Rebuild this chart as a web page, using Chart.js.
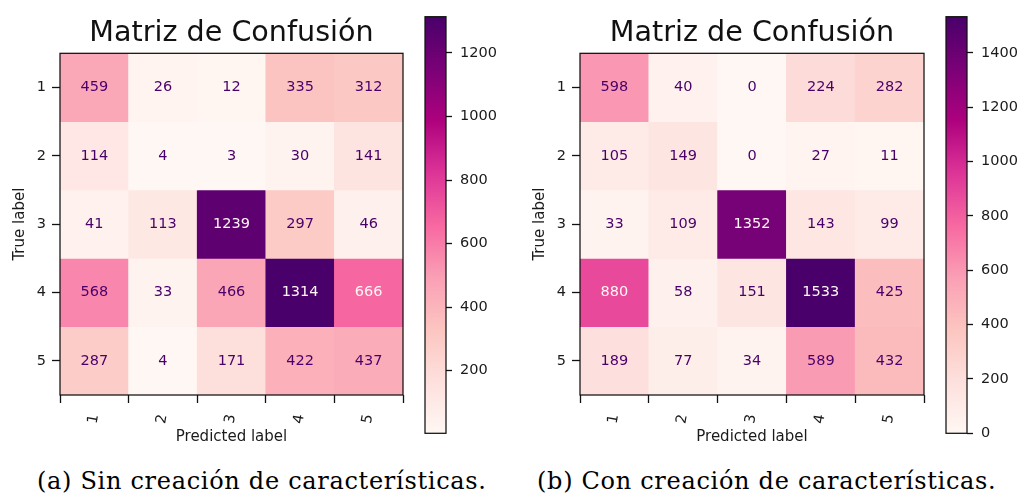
<!DOCTYPE html>
<html>
<head>
<meta charset="utf-8">
<script src="https://cdn.jsdelivr.net/npm/chart.js@4/dist/chart.umd.min.js"></script>
<style>
  body { margin: 0; background: #fff; width: 1019px; height: 504px; position: relative; overflow: hidden; }
  canvas { position: absolute; top: 0; }
  .caption { position: absolute; top: 469px; font-family: "DejaVu Serif", serif; font-size: 24px; line-height: 24px; letter-spacing: 0.7px; color: #000; white-space: nowrap; }
</style>
</head>
<body>
<canvas id="cmA" width="420" height="450" style="left:0"></canvas>
<canvas id="cbA" width="90" height="450" style="left:420px"></canvas>
<canvas id="cmB" width="420" height="450" style="left:520px"></canvas>
<canvas id="cbB" width="78" height="450" style="left:941px"></canvas>
<div class="caption" style="left:37px">(a) Sin creación de características.</div>
<div class="caption" style="left:537px">(b) Con creación de características.</div>
<script>
// class labels (true / predicted)
const classLabels = ['1', '2', '3', '4', '5'];

// (a) sin creación de características, rows = true label
const matrixA = [
    [459, 26, 12, 335, 312],
    [114, 4, 3, 30, 141],
    [41, 113, 1239, 297, 46],
    [568, 33, 466, 1314, 666],
    [287, 4, 171, 422, 437]
];

// (b) con creación de características
const matrixB = [
    [598, 40, 0, 224, 282],
    [105, 149, 0, 27, 11],
    [33, 109, 1352, 143, 99],
    [880, 58, 151, 1533, 425],
    [189, 77, 34, 589, 432]
];

const colorbarTicksA = [200, 400, 600, 800, 1000, 1200];
const colorbarTicksB = [0, 200, 400, 600, 800, 1000, 1200, 1400];

// matplotlib RdPu
const rdpu = ['#fff7f3', '#fde0dd', '#fcc5c0', '#fa9fb5', '#f768a1', '#dd3497', '#ae017e', '#7a0177', '#49006a'];

Chart.defaults.font.family = 'DejaVu Sans';
Chart.defaults.color = '#1a1a1a';

function hexToRgb(h) {
    return [1, 3, 5].map(i => parseInt(h.substr(i, 2), 16));
}

function rdpuColor(t) {
    t = Math.max(0, Math.min(1, t));
    const pos = t * (rdpu.length - 1);
    const i = Math.min(Math.floor(pos), rdpu.length - 2);
    const f = pos - i;
    const a = hexToRgb(rdpu[i]), b = hexToRgb(rdpu[i + 1]);
    const c = a.map((v, k) => Math.round(v + (b[k] - v) * f));
    return `rgb(${c[0]}, ${c[1]}, ${c[2]})`;
}

// black frame around the plot area
const frame = {
    id: 'frame',
    afterDatasetsDraw(chart) {
        const { ctx, chartArea } = chart;
        ctx.save();
        ctx.strokeStyle = '#111';
        ctx.lineWidth = 1.25;
        ctx.strokeRect(chartArea.left, chartArea.top, chartArea.right - chartArea.left, chartArea.bottom - chartArea.top);
        ctx.restore();
    }
};

// numbers written in each cell
const cellText = {
    id: 'cellText',
    afterDatasetsDraw(chart) {
        const { ctx } = chart;
        const all = chart.data.datasets.flatMap(d => d.values);
        const thresh = (Math.max(...all) + Math.min(...all)) / 2;
        ctx.save();
        ctx.font = '14.5px "DejaVu Sans"';
        ctx.textAlign = 'center';
        ctx.textBaseline = 'middle';
        chart.data.datasets.forEach((ds, i) => {
            chart.getDatasetMeta(i).data.forEach((bar, j) => {
                const v = ds.values[j];
                ctx.fillStyle = v > thresh ? rdpu[0] : rdpu[8];
                ctx.fillText(String(v), bar.x, (bar.y + bar.base) / 2);
            });
        });
        ctx.restore();
    }
};

function makeMatrix(id, matrix, padRight) {
    const flat = matrix.flat();
    const vmin = Math.min(...flat), vmax = Math.max(...flat);
    const datasets = matrix.map((row, r) => ({
        data: row.map(() => [r + 0.5, r + 1.5]),
        values: row,
        backgroundColor: row.map(v => rdpuColor((v - vmin) / (vmax - vmin))),
        borderWidth: 0,
        grouped: false,
        barPercentage: 1,
        categoryPercentage: 1
    }));

    return new Chart(document.getElementById(id), {
        type: 'bar',
        data: { labels: classLabels, datasets: datasets },
        options: {
            responsive: false,
            animation: false,
            layout: { padding: { left: 0, right: padRight, top: 0, bottom: 0 } },
            plugins: {
                legend: { display: false },
                tooltip: { enabled: false },
                title: {
                    display: true,
                    text: 'Matriz de Confusión',
                    fullSize: false,
                    color: '#111',
                    font: { size: 28.6, weight: 'normal' },
                    padding: { top: 16, bottom: 3 }
                }
            },
            scales: {
                x: {
                    afterFit: (s) => { s.height = 55; },
                    grid: { drawOnChartArea: false, tickLength: 8, tickWidth: 1.3, color: '#111' },
                    border: { display: false },
                    ticks: { font: { size: 14.5 }, minRotation: 80, maxRotation: 80, padding: 10 },
                    title: { display: true, text: 'Predicted label', font: { size: 15 }, padding: { top: 0, bottom: 4 } }
                },
                y: {
                    min: 0.5,
                    max: 5.5,
                    reverse: true,
                    afterFit: (s) => { s.width = 60; },
                    afterBuildTicks: (s) => { s.ticks = classLabels.map((l, i) => ({ value: i + 1 })); },
                    grid: { drawOnChartArea: false, tickLength: 8, tickWidth: 1.3, color: '#111' },
                    border: { display: false },
                    ticks: {
                        font: { size: 14.5 },
                        padding: 6,
                        callback: (v) => classLabels[v - 1]
                    },
                    title: { display: true, text: 'True label', font: { size: 15 }, padding: { top: 11, bottom: 0 } }
                }
            }
        },
        plugins: [frame, cellText]
    });
}

function makeColorbar(id, matrix, ticks, axisWidth) {
    const flat = matrix.flat();
    const vmin = Math.min(...flat), vmax = Math.max(...flat);
    return new Chart(document.getElementById(id), {
        type: 'bar',
        data: {
            labels: [''],
            datasets: [{
                data: [[vmin, vmax]],
                borderWidth: 0,
                barPercentage: 1,
                categoryPercentage: 1,
                backgroundColor: (c) => {
                    const chart = c.chart;
                    const ys = chart.scales.y;
                    if (!chart.chartArea || !ys) return rdpu[0];
                    const g = chart.ctx.createLinearGradient(0, ys.getPixelForValue(vmin), 0, ys.getPixelForValue(vmax));
                    rdpu.forEach((col, i) => g.addColorStop(i / (rdpu.length - 1), col));
                    return g;
                }
            }]
        },
        options: {
            responsive: false,
            animation: false,
            layout: { padding: { left: 5, right: 0, top: 11, bottom: 13 } },
            plugins: { legend: { display: false }, tooltip: { enabled: false } },
            scales: {
                x: { display: false },
                y: {
                    position: 'right',
                    min: vmin,
                    max: vmax,
                    afterFit: (s) => { s.width = axisWidth; },
                    afterBuildTicks: (s) => { s.ticks = ticks.map(v => ({ value: v })); },
                    grid: { drawOnChartArea: false, tickLength: 6, tickWidth: 1.3, color: '#111' },
                    border: { display: false },
                    ticks: { font: { size: 14.5 }, padding: 8, callback: (v) => String(v) }
                }
            }
        },
        plugins: [frame]
    });
}

makeMatrix('cmA', matrixA, 17);
makeColorbar('cbA', matrixA, colorbarTicksA, 64);
makeMatrix('cmB', matrixB, 16);
makeColorbar('cbB', matrixB, colorbarTicksB, 52);
</script>
</body>
</html>
